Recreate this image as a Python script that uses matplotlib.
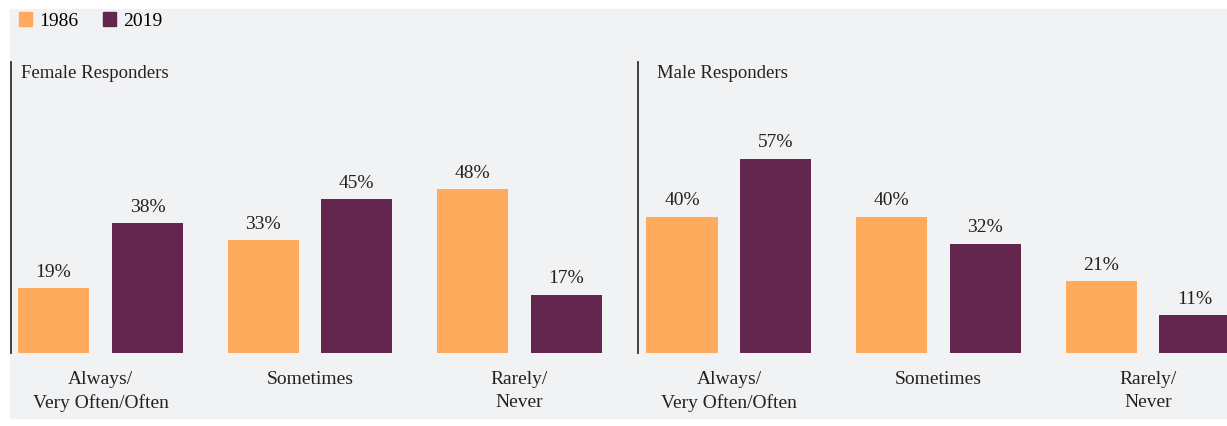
import matplotlib.pyplot as plt
from matplotlib.patches import Rectangle

plt.rcParams['font.family'] = ['Liberation Serif', 'DejaVu Serif']

categories = ['Always/\nVery Often/Often', 'Sometimes', 'Rarely/\nNever']
years = ['1986', '2019']
female_1986 = [19, 33, 48]
female_2019 = [38, 45, 17]
male_1986 = [40, 40, 21]
male_2019 = [57, 32, 11]

orange = '#FFAB5E'
purple = '#62264F'
bg = '#F1F2F4'

W, H = 1227, 426
fig = plt.figure(figsize=(W / 100, H / 100), dpi=100, facecolor='white')
fig.add_artist(Rectangle((10 / W, 8 / H), (W - 10) / W, (H - 17) / H,
                         transform=fig.transFigure, color=bg, zorder=-5))

base = (H - 353) / H
ax_h = 291 / H
bw = 0.339
off = 0.224


def panel(left, right, xmin, xmax, title, title_pad, v86, v19):
    ax = fig.add_axes([left / W, base, (right - left) / W, ax_h])
    ax.set_facecolor('none')
    x = list(range(len(categories)))
    b1 = ax.bar([i - off for i in x], v86, bw, color=orange)
    b2 = ax.bar([i + off for i in x], v19, bw, color=purple)
    for bars, vals in ((b1, v86), (b2, v19)):
        for b, v in zip(bars, vals):
            ax.annotate(f'{v}%', (b.get_x() + b.get_width() / 2, v),
                        xytext=(0, 5.5), textcoords='offset points',
                        ha='center', va='bottom', fontsize=14, color='#222222')
    for i, c in enumerate(categories):
        ax.annotate(c, (i, 0), xytext=(0, -13), textcoords='offset points',
                    ha='center', va='top', fontsize=14, color='#222222',
                    linespacing=1.45)
    ax.set_xlim(xmin, xmax)
    ax.set_ylim(0, 85.3)
    for s in ('top', 'right', 'bottom'):
        ax.spines[s].set_visible(False)
    ax.spines['left'].set_color('#333333')
    ax.spines['left'].set_linewidth(1.3)
    ax.set_xticks([])
    ax.set_yticks([])
    ax.text(title_pad / (right - left), 1 - 12 / 291, title, transform=ax.transAxes,
            fontsize=13.5, color='#222222', va='center', ha='left')
    return ax


panel(11, 638, -0.427, 2.566, 'Female Responders', 10, female_1986, female_2019)
panel(638, 1227, -0.434, 2.377, 'Male Responders', 19, male_1986, male_2019)

# legend
handles = [Rectangle((0, 0), 1, 1, color=orange), Rectangle((0, 0), 1, 1, color=purple)]
fig.legend(handles, years, loc='center left', bbox_to_anchor=(9 / W, 1 - 21 / H),
           ncol=2, frameon=False, fontsize=14, handlelength=0.7, handleheight=0.7,
           handletextpad=0.35, columnspacing=1.25, borderpad=0)

fig.savefig('out.png', dpi=100, facecolor='white')
